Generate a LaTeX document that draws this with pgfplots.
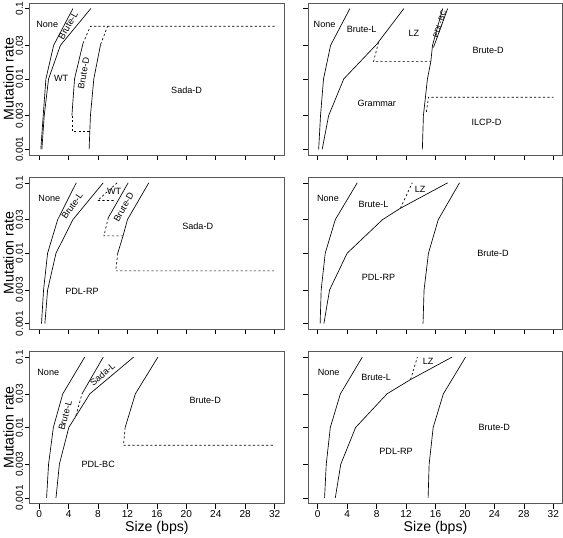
\documentclass[border=0pt]{standalone}
\usepackage{fontspec}
\setmainfont{Liberation Sans}
\usepackage{pgfplots}
\pgfplotsset{compat=1.18}
\usepgfplotslibrary{groupplots}

\pgfplotsset{
  rbox/.style={
    scale only axis, width=251bp, height=150bp,
    xmin=-1.28, xmax=33.28, ymode=log, ymin=0.000832, ymax=0.1202,
    xtick={0,4,...,32}, xticklabels={0,4,8,12,16,20,24,28,32},
    ytick={0.001,0.003,0.01,0.03,0.1},
    yticklabels={0.001,0.003,0.01,0.03,0.1},
    minor ytick={}, minor xtick={},
    tick align=outside, tick pos=left, major tick length=5bp,
    /pgf/number format/assume math mode=true,
    axis line style={black!65, line width=0.6bp},
    major tick style={black, line width=0.6bp},
    every tick label/.append style={font=\fontsize{10}{12}\selectfont},
    yticklabel style={rotate=90, anchor=south, inner sep=1.5bp},
    xticklabel style={inner sep=2bp},
    label style={font=\fontsize{14}{16}\selectfont},
    ylabel style={yshift=-3bp},
    xlabel style={yshift=2bp},
    clip=true,
  },
  sl/.style={black, line width=0.65bp, no marks},
  dl/.style={black, line width=0.65bp, no marks, dash pattern=on 2.2bp off 2.2bp},
}
\tikzset{lbl/.style={font=\fontsize{9}{10}\selectfont, inner sep=0pt}}

\begin{document}
\begin{tikzpicture}
\begin{groupplot}[
  group style={group size=2 by 3, horizontal sep=24bp, vertical sep=22bp,
    xticklabels at=edge bottom, yticklabels at=edge left,
    xlabels at=edge bottom, ylabels at=edge left},
  rbox, xlabel={Size (bps)}, ylabel={Mutation rate}]

% ---------- panel 1 (top left)
\nextgroupplot
\addplot[sl] coordinates {(0.23,0.001) (0.55,0.003) (0.92,0.01) (1.97,0.03) (4.59,0.1)};
\addplot[sl] coordinates {(0.37,0.001) (0.69,0.003) (1.28,0.01) (2.89,0.03) (7.02,0.1)};
\addplot[sl] coordinates {(4.45,0.003) (4.81,0.01) (5.96,0.032)};
\addplot[dl] coordinates {(5.96,0.032) (6.96,0.056) (32,0.056)};
\addplot[dl] coordinates {(4.45,0.003) (4.45,0.0018) (6.85,0.0018)};
\addplot[sl] coordinates {(6.79,0.001) (6.97,0.003) (7.43,0.01) (8.35,0.031)};
\addplot[dl] coordinates {(8.35,0.031) (9.3,0.056)};
\node[lbl] at (axis cs:1.1,0.059) {None};
\node[lbl, rotate=60] at (axis cs:3.95,0.057) {Brute-L};
\node[lbl] at (axis cs:3.0,0.0101) {WT};
\node[lbl, rotate=80] at (axis cs:6.05,0.012) {Brute-D};
\node[lbl] at (axis cs:20.04,0.0068) {Sada-D};

% ---------- panel 2 (top right)
\nextgroupplot
\addplot[sl] coordinates {(0.12,0.001) (0.37,0.003) (0.78,0.01) (1.74,0.03) (4.36,0.1)};
\addplot[sl] coordinates {(0.6,0.001) (1.47,0.003) (3.53,0.01) (8.0,0.031) (11.7,0.1)};
\addplot[dl] coordinates {(8.25,0.033) (7.57,0.0176) (15.36,0.0176)};
\addplot[sl] coordinates {(14.21,0.001) (14.35,0.003) (14.9,0.01) (15.36,0.0176) (15.59,0.03) (16.97,0.1)};
\addplot[sl] coordinates {(15.72,0.028) (17.65,0.1)};
\addplot[dl] coordinates {(14.76,0.0034) (15.04,0.0055) (32,0.0055)};
\node[lbl] at (axis cs:0.92,0.059) {None};
\node[lbl] at (axis cs:5.96,0.05) {Brute-L};
\node[lbl] at (axis cs:13.07,0.044) {LZ};
\node[lbl] at (axis cs:23.15,0.025) {Brute-D};
\node[lbl] at (axis cs:8.02,0.0045) {Grammar};
\node[lbl] at (axis cs:22.93,0.0024) {ILCP-D};
\node[lbl, rotate=72, font=\fontsize{7.5}{8}\selectfont] at (axis cs:16.55,0.06) {PDL-BC};

% ---------- panel 3 (middle left)
\nextgroupplot
\addplot[sl] coordinates {(0.32,0.001) (0.6,0.003) (1.15,0.01) (2.52,0.03) (5.04,0.1)};
\addplot[sl] coordinates {(0.78,0.001) (1.15,0.003) (2.29,0.01) (4.59,0.03) (8.71,0.1)};
\addplot[dl] coordinates {(10.6,0.1) (7.94,0.056) (10.4,0.056)};
\addplot[sl] coordinates {(9.4,0.032) (12.1,0.1)};
\addplot[dl] coordinates {(9.4,0.032) (8.8,0.0176) (11.4,0.0176)};
\addplot[sl] coordinates {(10.68,0.01) (11.4,0.0176) (12.0,0.03) (14.9,0.1)};
\addplot[dl] coordinates {(10.68,0.01) (10.41,0.0056) (32,0.0056)};
\node[lbl] at (axis cs:1.38,0.06) {None};
\node[lbl, rotate=55] at (axis cs:4.5,0.047) {Brute-L};
\node[lbl] at (axis cs:10.2,0.075) {WT};
\node[lbl, rotate=60] at (axis cs:11.5,0.045) {Brute-D};
\node[lbl] at (axis cs:21.55,0.0245) {Sada-D};
\node[lbl] at (axis cs:5.82,0.0029) {PDL-RP};

% ---------- panel 4 (middle right)
\nextgroupplot
\addplot[sl] coordinates {(0.32,0.001) (0.46,0.003) (1.01,0.01) (2.38,0.03) (5.36,0.1)};
\addplot[sl] coordinates {(0.83,0.001) (1.6,0.003) (3.99,0.01) (8.8,0.03) (11.23,0.0435) (17.65,0.1)};
\addplot[dl] coordinates {(11.23,0.0435) (12.84,0.1)};
\addplot[sl] coordinates {(14.3,0.001) (14.44,0.003) (15.04,0.01) (16.37,0.03) (19.26,0.1)};
\node[lbl] at (axis cs:1.38,0.06) {None};
\node[lbl] at (axis cs:7.57,0.05) {Brute-L};
\node[lbl] at (axis cs:13.9,0.08) {LZ};
\node[lbl] at (axis cs:8.25,0.0046) {PDL-RP};
\node[lbl] at (axis cs:23.8,0.01) {Brute-D};

% ---------- panel 5 (bottom left)
\nextgroupplot
\addplot[sl] coordinates {(1.01,0.001) (1.28,0.003) (1.93,0.01) (3.21,0.03) (6.19,0.1)};
\addplot[sl] coordinates {(2.29,0.001) (2.75,0.003) (4.03,0.01) (6.88,0.03) (12.84,0.1)};
\addplot[dl] coordinates {(5.0,0.0147) (5.82,0.03)};
\addplot[sl] coordinates {(5.82,0.03) (8.71,0.1)};
\addplot[sl] coordinates {(11.69,0.01) (13.07,0.03) (16.14,0.1)};
\addplot[dl] coordinates {(11.69,0.01) (11.46,0.0056) (32,0.0056)};
\node[lbl] at (axis cs:1.24,0.061) {None};
\node[lbl, rotate=75] at (axis cs:3.55,0.0147) {Brute-L};
\node[lbl, rotate=40] at (axis cs:8.6,0.057) {Sada-L};
\node[lbl] at (axis cs:22.56,0.024) {Brute-D};
\node[lbl] at (axis cs:8.02,0.003) {PDL-BC};

% ---------- panel 6 (bottom right)
\nextgroupplot
\addplot[sl] coordinates {(0.92,0.001) (1.15,0.003) (1.7,0.01) (3.07,0.03) (6.05,0.1)};
\addplot[sl] coordinates {(2.38,0.001) (3.12,0.003) (5.14,0.01) (9.4,0.03) (12.61,0.048) (18.25,0.1)};
\addplot[dl] coordinates {(12.61,0.048) (13.53,0.1)};
\addplot[sl] coordinates {(14.99,0.001) (15.13,0.003) (15.68,0.01) (17.06,0.03) (20.08,0.1)};
\node[lbl] at (axis cs:1.47,0.061) {None};
\node[lbl] at (axis cs:7.93,0.051) {Brute-L};
\node[lbl] at (axis cs:15.0,0.087) {LZ};
\node[lbl] at (axis cs:10.64,0.0046) {PDL-RP};
\node[lbl] at (axis cs:23.98,0.01) {Brute-D};
\end{groupplot}
\end{tikzpicture}
\end{document}
